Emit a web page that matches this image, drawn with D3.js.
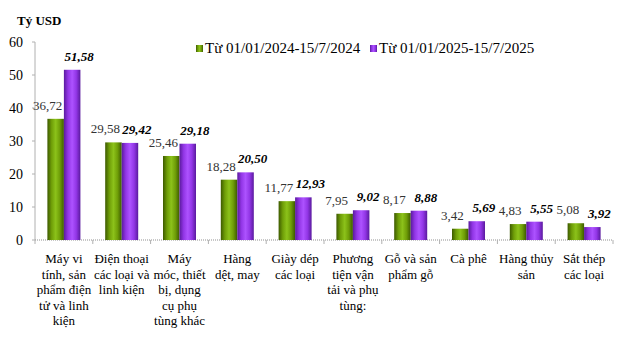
<!DOCTYPE html>
<html>
<head>
<meta charset="utf-8">
<script src="https://cdn.jsdelivr.net/npm/d3@7"></script>
<style>
  body { margin: 0; background: #fff; }
</style>
</head>
<body>
<svg id="chart" width="624" height="352" style="font-family: 'Liberation Serif', 'Times New Roman', serif"></svg>
<script>
let categories = [
    ['Máy vi', 'tính, sản', 'phẩm điện', 'tử và linh', 'kiện'],
    ['Điện thoại', 'các loại và', 'linh kiện'],
    ['Máy', 'móc, thiết', 'bị, dụng', 'cụ phụ', 'tùng khác'],
    ['Hàng', 'dệt, may'],
    ['Giày dép', 'các loại'],
    ['Phương', 'tiện vận', 'tải và phụ', 'tùng:'],
    ['Gỗ và sản', 'phẩm gỗ'],
    ['Cà phê'],
    ['Hàng thủy', 'sản'],
    ['Sắt thép', 'các loại']
]
let values2024 = [36.72, 29.58, 25.46, 18.28, 11.77, 7.95, 8.17, 3.42, 4.83, 5.08]
let values2025 = [51.58, 29.42, 29.18, 20.50, 12.93, 9.02, 8.88, 5.69, 5.55, 3.92]
let seriesNames = ['Từ 01/01/2024-15/7/2024', 'Từ 01/01/2025-15/7/2025']
let yTicks = [0, 10, 20, 30, 40, 50, 60]

function main() {
    let svg = d3.select('#chart'),
        margin = {top: 42, bottom: 112, left: 35, right: 11}

    let width = 624 - margin.left - margin.right,
        height = 352 - margin.top - margin.bottom

    let idx = d3.range(categories.length)
    let xScale = d3.scaleBand().range([margin.left, margin.left + width]).domain(idx).padding(0),
        yScale = d3.scaleLinear().range([margin.top + height, margin.top]).domain([0, 60])
    let barW = 16.5

    let fmt = v => d3.format('.2f')(v).replace('.', ',')

    // gradients for the shaded bars
    let defs = svg.append('defs')
    let grads = [
        ['gGreen', ['#3d5a00', '#6f9e08', '#8cc21a', '#6f9e08', '#3d5a00']],
        ['gPurple', ['#5a1a9e', '#9236e6', '#ad52ff', '#9236e6', '#5a1a9e']]
    ]
    grads.forEach(g => {
        let lg = defs.append('linearGradient').attr('id', g[0]).attr('x1', '0').attr('x2', '1').attr('y1', '0').attr('y2', '0')
        g[1].forEach((c, i) => lg.append('stop').attr('offset', (i / (g[1].length - 1) * 100) + '%').attr('stop-color', c))
    })

    // axes
    svg.append('line')
        .attr('x1', margin.left).attr('x2', margin.left)
        .attr('y1', yScale(60)).attr('y2', yScale(0))
        .attr('stroke', '#b0b0b0')
    svg.append('line')
        .attr('x1', margin.left).attr('x2', margin.left + width)
        .attr('y1', yScale(0)).attr('y2', yScale(0))
        .attr('stroke', '#909090').attr('stroke-dasharray', '1,1')

    svg.selectAll('.ytick')
        .data(yTicks)
        .enter()
        .append('line')
        .attr('x1', margin.left - 3).attr('x2', margin.left)
        .attr('y1', d => yScale(d)).attr('y2', d => yScale(d))
        .attr('stroke', '#b0b0b0')

    svg.selectAll('.ylabel')
        .data(yTicks)
        .enter()
        .append('text')
        .attr('text-anchor', 'end')
        .attr('font-size', 14)
        .attr('x', margin.left - 12)
        .attr('y', d => yScale(d) + 5)
        .text(d => d)

    svg.selectAll('.xtick')
        .data(d3.range(categories.length + 1))
        .enter()
        .append('line')
        .attr('x1', i => margin.left + i * xScale.step())
        .attr('x2', i => margin.left + i * xScale.step())
        .attr('y1', yScale(0)).attr('y2', yScale(0) + 4)
        .attr('stroke', '#b0b0b0')

    svg.append('text')
        .attr('x', 17).attr('y', 25)
        .attr('font-size', 13).attr('font-weight', 'bold')
        .text('Tỷ USD')

    // bars
    let center = i => xScale(i) + xScale.bandwidth() / 2
    svg.selectAll('.bar24')
        .data(idx)
        .enter()
        .append('rect')
        .attr('x', i => center(i) - barW)
        .attr('y', i => yScale(values2024[i]))
        .attr('width', barW)
        .attr('height', i => yScale(0) - yScale(values2024[i]))
        .attr('fill', 'url(#gGreen)')
    svg.selectAll('.bar25')
        .data(idx)
        .enter()
        .append('rect')
        .attr('x', i => center(i))
        .attr('y', i => yScale(values2025[i]))
        .attr('width', barW)
        .attr('height', i => yScale(0) - yScale(values2025[i]))
        .attr('fill', 'url(#gPurple)')

    // value labels
    svg.selectAll('.lab24')
        .data(idx)
        .enter()
        .append('text')
        .attr('text-anchor', 'middle')
        .attr('font-size', 13)
        .attr('fill', '#333')
        .attr('x', i => center(i) - barW / 2 - 8)
        .attr('y', i => yScale(values2024[i]) - 9)
        .text(i => fmt(values2024[i]))
    svg.selectAll('.lab25')
        .data(idx)
        .enter()
        .append('text')
        .attr('text-anchor', 'middle')
        .attr('font-size', 13)
        .attr('font-weight', 'bold').attr('font-style', 'italic')
        .attr('x', i => center(i) + barW / 2 + 7)
        .attr('y', i => yScale(values2025[i]) - 9)
        .text(i => fmt(values2025[i]))

    // category labels
    let catG = svg.selectAll('.cat')
        .data(idx)
        .enter()
        .append('text')
        .attr('text-anchor', 'middle')
        .attr('font-size', 13)
        .attr('x', i => center(i))
        .attr('y', yScale(0) + 23)
    catG.selectAll('tspan')
        .data(i => categories[i].map(line => ({line, x: center(i)})))
        .enter()
        .append('tspan')
        .attr('x', d => d.x)
        .attr('dy', (d, j) => j === 0 ? 0 : 15.5)
        .text(d => d.line)

    // legend
    let legendX = [196, 370]
    let legendFill = ['url(#gGreen)', 'url(#gPurple)']
    let legend = svg.selectAll('.legend')
        .data(seriesNames)
        .enter()
        .append('g')
        .attr('transform', (d, i) => 'translate(' + legendX[i] + ',45)')
    legend.append('rect')
        .attr('width', 7).attr('height', 7)
        .attr('fill', (d, i) => legendFill[i])
    legend.append('text')
        .attr('x', 9).attr('y', 7.5)
        .attr('font-size', 15)
        .text(d => d)
}

main()
</script>
</body>
</html>
